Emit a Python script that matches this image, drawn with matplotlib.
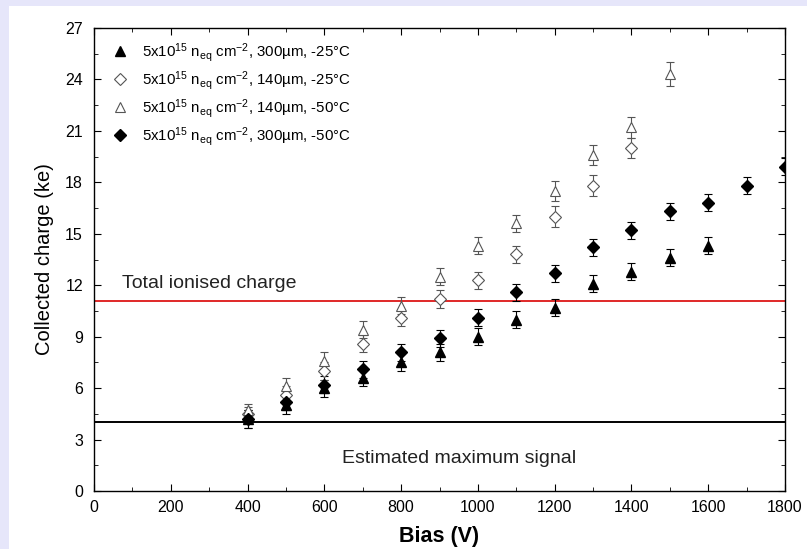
import numpy as np
import matplotlib.pyplot as plt
from matplotlib.lines import Line2D
from matplotlib.patches import Rectangle
from matplotlib.ticker import MultipleLocator

plt.rcParams['font.family'] = ['Liberation Sans', 'DejaVu Sans']
plt.rcParams['mathtext.fontset'] = 'custom'
plt.rcParams['mathtext.rm'] = 'Liberation Sans'
plt.rcParams['mathtext.it'] = 'Liberation Sans'

# filled triangles: 300um, -25C
bias_a = [400, 500, 600, 700, 800, 900, 1000, 1100, 1200, 1300, 1400, 1500, 1600]
q_a = [4.2, 5.0, 6.0, 6.6, 7.5, 8.1, 9.0, 10.0, 10.7, 12.1, 12.8, 13.6, 14.3]
e_a = [0.5, 0.5, 0.5, 0.5, 0.5, 0.5, 0.5, 0.5, 0.5, 0.5, 0.5, 0.5, 0.5]

# open diamonds: 140um, -25C
bias_b = [400, 500, 600, 700, 800, 900, 1000, 1100, 1200, 1300, 1400]
q_b = [4.5, 5.6, 7.0, 8.6, 10.1, 11.2, 12.3, 13.8, 16.0, 17.8, 20.0]
e_b = [0.4, 0.5, 0.5, 0.5, 0.5, 0.5, 0.5, 0.5, 0.6, 0.6, 0.6]

# open triangles: 140um, -50C
bias_c = [400, 500, 600, 700, 800, 900, 1000, 1100, 1200, 1300, 1400, 1500]
q_c = [4.7, 6.1, 7.6, 9.4, 10.8, 12.5, 14.3, 15.6, 17.5, 19.6, 21.2, 24.3]
e_c = [0.4, 0.5, 0.5, 0.5, 0.5, 0.5, 0.5, 0.5, 0.6, 0.6, 0.6, 0.7]

# filled diamonds: 300um, -50C
bias_d = [400, 500, 600, 700, 800, 900, 1000, 1100, 1200, 1300, 1400, 1500, 1600, 1700, 1800]
q_d = [4.2, 5.2, 6.2, 7.1, 8.1, 8.9, 10.1, 11.6, 12.7, 14.2, 15.2, 16.3, 16.8, 17.8, 18.9]
e_d = [0.5, 0.5, 0.5, 0.5, 0.5, 0.5, 0.5, 0.5, 0.5, 0.5, 0.5, 0.5, 0.5, 0.5, 0.5]

labels = [
    r"5x10$^{15}$ n$_{\rm eq}$ cm$^{-2}$, 300µm, -25°C",
    r"5x10$^{15}$ n$_{\rm eq}$ cm$^{-2}$, 140µm, -25°C",
    r"5x10$^{15}$ n$_{\rm eq}$ cm$^{-2}$, 140µm, -50°C",
    r"5x10$^{15}$ n$_{\rm eq}$ cm$^{-2}$, 300µm, -50°C",
]

total_ionised = 11.1
max_signal = 4.0

fig = plt.figure(figsize=(8.07, 5.49), dpi=100, facecolor="#e6e6fa")
bg = Rectangle((9 / 807, 0), 1, 1 - 6 / 549, transform=fig.transFigure,
               facecolor="white", edgecolor="none", zorder=-10)
fig.add_artist(bg)
ax = fig.add_axes([94 / 807, 1 - 491 / 549, (785 - 94) / 807, (491 - 28) / 549])

ax.axhline(total_ionised, color="#e02828", linewidth=1.4, zorder=2)
ax.axhline(max_signal, color="black", linewidth=1.4, zorder=2)

styles = [
    dict(marker="^", ms=7, color="black", mfc="black"),
    dict(marker="D", ms=6, color="#555555", mfc="white", mew=0.8),
    dict(marker="^", ms=7, color="#555555", mfc="white", mew=0.8),
    dict(marker="D", ms=6, color="black", mfc="black"),
]
eb = dict(capsize=3, elinewidth=0.8, capthick=0.8, linestyle="none", zorder=3)
for (x, y, e), st in zip([(bias_a, q_a, e_a), (bias_b, q_b, e_b),
                          (bias_c, q_c, e_c), (bias_d, q_d, e_d)], styles):
    ax.errorbar(x, y, yerr=e, **st, **eb)

ax.text(73, 12.1, "Total ionised charge", fontsize=14, color="#222222", va="center")
ax.text(1255, 1.9, "Estimated maximum signal", fontsize=14, color="#222222",
        ha="right", va="center")

ax.set_xlim(0, 1800)
ax.set_ylim(0, 27)
ax.xaxis.set_major_locator(MultipleLocator(200))
ax.xaxis.set_minor_locator(MultipleLocator(100))
ax.yaxis.set_major_locator(MultipleLocator(3))
ax.yaxis.set_minor_locator(MultipleLocator(1.5))
ax.tick_params(which="both", direction="in", top=True, right=True, labelsize=11.5)
ax.tick_params(axis="x", pad=6.5)
ax.tick_params(axis="y", pad=8)
ax.tick_params(which="major", length=5)
ax.tick_params(which="minor", length=3)
for s in ax.spines.values():
    s.set_linewidth(1.0)

ax.set_xlabel("Bias (V)", fontsize=15.5, fontweight="bold", labelpad=8)
ax.set_ylabel("Collected charge (ke)", fontsize=14.5, labelpad=8)

handles = [Line2D([], [], linestyle="none", **st) for st in styles]
ax.legend(handles, labels, loc="upper left", bbox_to_anchor=(0.016, 0.985),
          frameon=False, fontsize=10.8, handletextpad=0.85, labelspacing=0.34,
          borderaxespad=0.0, handlelength=1.2)

fig.savefig("out.png", dpi=100, facecolor=fig.get_facecolor())
